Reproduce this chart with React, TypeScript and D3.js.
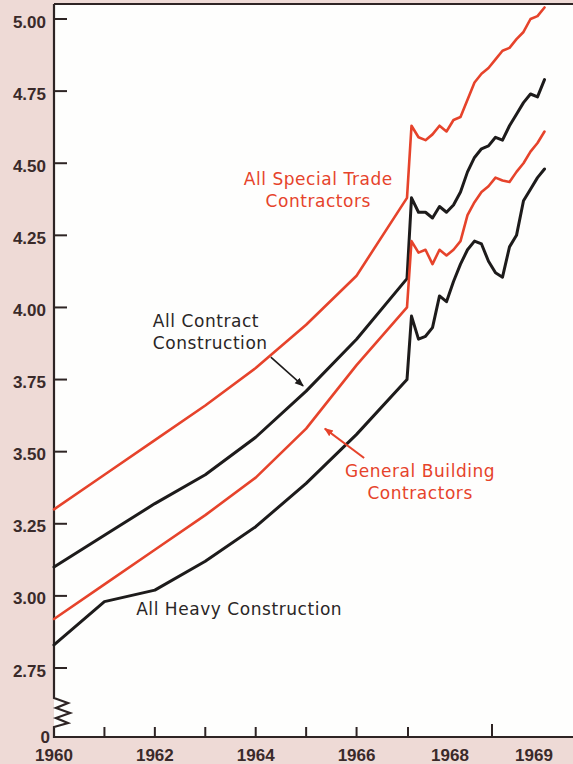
import React, { useEffect, useRef } from "react";
import * as d3 from "d3";

const W = 573;
const H = 764;

// annual averages 1960-1967, then monthly figures Jan 1968 - Aug 1969
const YEARS = [1960, 1961, 1962, 1963, 1964, 1965, 1966, 1967];
const MONTHS = [
  "1968-01", "1968-02", "1968-03", "1968-04", "1968-05", "1968-06", "1968-07", "1968-08",
  "1968-09", "1968-10", "1968-11", "1968-12", "1969-01", "1969-02", "1969-03", "1969-04",
  "1969-05", "1969-06", "1969-07", "1969-08"
];

const SPECIAL_ANNUAL = [3.3, 3.42, 3.54, 3.66, 3.79, 3.94, 4.11, 4.38];
const SPECIAL_MONTHLY = [4.63, 4.59, 4.58, 4.6, 4.63, 4.61, 4.65, 4.66, 4.72, 4.78, 4.81, 4.83, 4.86, 4.89, 4.9, 4.93, 4.955, 5.0, 5.01, 5.04];

const CONTRACT_ANNUAL = [3.1, 3.21, 3.32, 3.42, 3.55, 3.71, 3.89, 4.1];
const CONTRACT_MONTHLY = [4.38, 4.33, 4.33, 4.31, 4.35, 4.33, 4.355, 4.4, 4.47, 4.52, 4.55, 4.56, 4.59, 4.58, 4.63, 4.67, 4.71, 4.74, 4.73, 4.79];

const GENERAL_ANNUAL = [2.92, 3.04, 3.16, 3.28, 3.41, 3.58, 3.8, 4.0];
const GENERAL_MONTHLY = [4.23, 4.19, 4.2, 4.15, 4.2, 4.18, 4.2, 4.23, 4.32, 4.365, 4.4, 4.42, 4.45, 4.44, 4.435, 4.47, 4.5, 4.54, 4.57, 4.61];

const HEAVY_ANNUAL = [2.83, 2.98, 3.02, 3.12, 3.24, 3.39, 3.56, 3.75];
const HEAVY_MONTHLY = [3.97, 3.89, 3.9, 3.93, 4.04, 4.02, 4.09, 4.15, 4.2, 4.23, 4.22, 4.16, 4.12, 4.105, 4.21, 4.25, 4.37, 4.41, 4.45, 4.48];

const Y_TICKS = [2.75, 3.0, 3.25, 3.5, 3.75, 4.0, 4.25, 4.5, 4.75, 5.0];
const X_TICKS_ANNUAL = [1961, 1962, 1963, 1964, 1965, 1966];
const X_TICKS_MONTHLY = [1968, 1969];
const X_LABELS_ANNUAL = [1960, 1962, 1964, 1966];
const X_LABELS_MONTHLY = [1968, 1969];

const RED = "#e6432b";
const BLACK = "#1d1b1b";
const AXIS = "#2e2424";
const PAPER = "#eedad6";

function monthT(m: string) {
  const [yy, mm] = m.split("-").map(Number);
  return yy + (mm - 0.5) / 12;
}

export default function App() {
  const svgRef = useRef<SVGSVGElement | null>(null);

  useEffect(() => {
    const svg = d3.select(svgRef.current);
    svg.selectAll("*").remove();

    const left = 54, top = 4, bottom = 737;
    const xYear = d3.scaleLinear().domain([1960, 1967]).range([left, 407]);
    const xMonth = d3.scaleLinear().domain([1968, 1970]).range([408, 576]);
    const y = d3.scaleLinear().domain([2.75, 5]).range([668, 19]);

    svg.append("rect").attr("width", W).attr("height", H).attr("fill", PAPER);
    svg.append("rect").attr("x", left).attr("y", top).attr("width", W - left).attr("height", bottom - top).attr("fill", "#fefefd");

    const defs = svg.append("defs");
    [["arrBlack", BLACK], ["arrRed", RED]].forEach(([id, c]) => {
      defs.append("marker").attr("id", id).attr("viewBox", "0 0 10 10").attr("refX", 9).attr("refY", 5)
        .attr("markerWidth", 9).attr("markerHeight", 9).attr("markerUnits", "userSpaceOnUse").attr("orient", "auto")
        .append("path").attr("d", "M0,1 L10,5 L0,9 Z").attr("fill", c);
    });

    // axes
    svg.append("line").attr("x1", left).attr("x2", W).attr("y1", top).attr("y2", top).attr("stroke", AXIS).attr("stroke-width", 2);
    svg.append("line").attr("x1", left).attr("x2", W).attr("y1", bottom).attr("y2", bottom).attr("stroke", AXIS).attr("stroke-width", 2.2);
    svg.append("path")
      .attr("d", `M${left},${top} L${left},698 L68,703 L56,708 L70,713 L56,718 L68,723 L${left},727 L${left},${bottom + 1}`)
      .attr("fill", "none").attr("stroke", AXIS).attr("stroke-width", 2.2).attr("stroke-linejoin", "miter");

    const tickFont = "'Liberation Sans', Arial, sans-serif";
    Y_TICKS.forEach((t) => {
      svg.append("line").attr("x1", left).attr("x2", 67).attr("y1", y(t)).attr("y2", y(t)).attr("stroke", AXIS).attr("stroke-width", 2);
      svg.append("text").attr("x", 46).attr("y", y(t) + 8.5).attr("text-anchor", "end")
        .attr("font-family", tickFont).attr("font-weight", "bold").attr("font-size", 17).attr("fill", "#3a2a2a")
        .text(t.toFixed(2));
    });
    svg.append("text").attr("x", 50).attr("y", bottom + 6).attr("text-anchor", "end")
      .attr("font-family", tickFont).attr("font-weight", "bold").attr("font-size", 17).attr("fill", "#3a2a2a").text("0");

    X_TICKS_ANNUAL.forEach((t) => {
      svg.append("line").attr("x1", xYear(t)).attr("x2", xYear(t)).attr("y1", bottom).attr("y2", bottom - 10).attr("stroke", AXIS).attr("stroke-width", 2);
    });
    X_TICKS_MONTHLY.forEach((t) => {
      svg.append("line").attr("x1", xMonth(t)).attr("x2", xMonth(t)).attr("y1", bottom).attr("y2", bottom - (t === 1969 ? 13 : 10)).attr("stroke", AXIS).attr("stroke-width", 2);
    });
    X_LABELS_ANNUAL.forEach((t) => {
      svg.append("text").attr("x", xYear(t)).attr("y", 761).attr("text-anchor", "middle")
        .attr("font-family", tickFont).attr("font-weight", "bold").attr("font-size", 17).attr("fill", "#3a2a2a").text(t);
    });
    X_LABELS_MONTHLY.forEach((t) => {
      svg.append("text").attr("x", xMonth(t + 0.5)).attr("y", 761).attr("text-anchor", "middle")
        .attr("font-family", tickFont).attr("font-weight", "bold").attr("font-size", 17).attr("fill", "#3a2a2a").text(t);
    });

    // series
    const series = [
      { annual: SPECIAL_ANNUAL, monthly: SPECIAL_MONTHLY, color: RED, w: 2.6 },
      { annual: CONTRACT_ANNUAL, monthly: CONTRACT_MONTHLY, color: BLACK, w: 3 },
      { annual: GENERAL_ANNUAL, monthly: GENERAL_MONTHLY, color: RED, w: 2.6 },
      { annual: HEAVY_ANNUAL, monthly: HEAVY_MONTHLY, color: BLACK, w: 3 }
    ];
    const line = d3.line<[number, number]>();
    series.forEach((s) => {
      const pts: [number, number][] = [
        ...s.annual.map((v, i) => [xYear(YEARS[i]), y(v)] as [number, number]),
        ...s.monthly.map((v, i) => [xMonth(monthT(MONTHS[i])), y(v)] as [number, number])
      ];
      svg.append("path").attr("d", line(pts)).attr("fill", "none").attr("stroke", s.color)
        .attr("stroke-width", s.w).attr("stroke-linejoin", "round").attr("stroke-linecap", "round");
    });

    // labels
    const labelFont = "'DejaVu Sans', Verdana, sans-serif";
    const label = (lines: string[], x: number, yb: number, color: string, anchor: string) => {
      lines.forEach((t, i) => {
        svg.append("text").attr("x", x).attr("y", yb + i * 22).attr("text-anchor", anchor)
          .attr("font-family", labelFont).attr("font-size", 17).attr("letter-spacing", 0.55).attr("fill", color).text(t);
      });
    };
    label(["All Special Trade", "Contractors"], xYear(1965.24), y(4.424), RED, "middle");
    label(["All Contract", "Construction"], xYear(1961.96), y(3.932), "#2a2626", "start");
    label(["General Building", "Contractors"], xYear(1967.26), y(3.412), RED, "middle");
    label(["All Heavy Construction"], xYear(1961.63), y(2.933), "#2a2626", "start");

    svg.append("line").attr("x1", xYear(1964.3)).attr("y1", y(3.828)).attr("x2", xYear(1964.94)).attr("y2", y(3.728))
      .attr("stroke", BLACK).attr("stroke-width", 1.6).attr("marker-end", "url(#arrBlack)");
    svg.append("line").attr("x1", xYear(1966.15)).attr("y1", y(3.478)).attr("x2", xYear(1965.37)).attr("y2", y(3.58))
      .attr("stroke", RED).attr("stroke-width", 2).attr("marker-end", "url(#arrRed)");
  }, []);

  return (
    <div style={{ position: "absolute", left: 0, top: 0 }}>
      <svg ref={svgRef} width={W} height={H} style={{ display: "block" }} />
    </div>
  );
}
